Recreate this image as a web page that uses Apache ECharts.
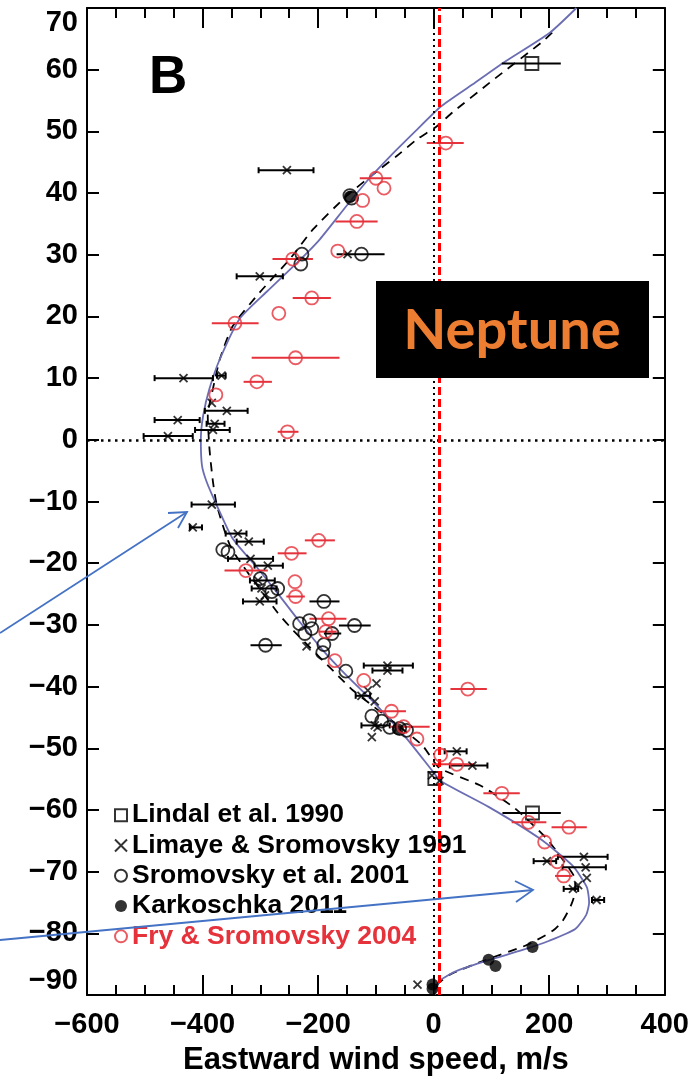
<!DOCTYPE html>
<html><head><meta charset="utf-8">
<script src="https://cdn.jsdelivr.net/npm/echarts@6/dist/echarts.min.js"></script>
<style>html,body{margin:0;padding:0;background:#fff}#c{width:692px;height:1081px}</style>
</head><body><div id="c"></div>
<script>
// ---- data: [eastward wind (m/s), latitude (deg), error low, error high] ----
const lindal = [[170,61,118,220],[171,-60.5,119,220],[2,-54.9,null,null]];
const limaye = [
 [-254,43.7,-303,-208],[-301,26.5,-341,-261],[-149,30.1,null,null],[-433,10.0,-483,-382],
 [-367,10.4,-375,-360],[-384,6.0,null,null],[-358,4.7,-396,-322],[-443,3.2,-483,-405],
 [-379,2.6,-393,-362],[-382,1.6,-413,-353],[-460,0.6,-502,-417],[-384,-10.5,-419,-344],
 [-417,-14.2,-422,-401],[-339,-15.2,-360,-324],[-320,-16.5,-341,-294],[-317,-19.3,-356,-278],
 [-287,-20.4,-310,-261],[-304,-22.8,-318,-275],[-298,-24.1,-315,-272],[-292,-25.2,null,null],
 [-301,-26.2,-330,-272],[-220,-33.5,null,null],[-80,-36.6,-121,-36],[-80,-37.4,-106,-54],
 [-99,-39.5,null,null],[-114,-40.6,null,null],[-125,-41.5,-135,-110],[-102,-42.4,null,null],
 [-102,-46.3,-125,-76],[-97,-46.6,null,null],[-107,-48.2,null,null],[40,-50.5,19,57],
 [67,-52.8,28,93],[-3,-54.4,null,null],[10,-55.3,null,null],[196,-68.3,173,212],
 [260,-67.6,215,301],[263,-69.3,223,298],[265,-71.0,null,null],[250,-72.2,null,null],
 [241,-72.8,225,250],[282,-74.6,274,295],[-28,-88.3,null,null]
];
const sromovsky = [
 [-145,39.6,null,null],[-142,39.2,null,null],[-228,30.1,null,null],[-230,28.5,null,null],
 [-125,30.1,-168,-85],[-365,-17.8,null,null],[-356,-18.2,null,null],[-300,-22.5,null,null],
 [-270,-24.1,null,null],[-280,-24.6,null,null],[-190,-26.2,-215,-163],[-232,-29.8,null,null],
 [-215,-29.3,null,null],[-211,-30.6,null,null],[-223,-31.4,null,null],[-176,-31.4,-190,-160],
 [-137,-30.1,-164,-109],[-291,-33.3,-317,-263],[-190,-33.2,null,null],[-192,-34.5,null,null],
 [-152,-37.5,null,null],[-107,-44.8,null,null],[-90,-45.6,null,null],[-76,-46.6,null,null],
 [-59,-46.8,null,null],[-47,-47.1,null,null]
];
const karkoschka = [[171,-82.2],[95,-84.3],[107,-85.3],[-2,-88.3],[-2,-89.0],[-62,-46.9],[-145,39.4]];
const fry = [
 [21,48.1,-12,52],[-100,42.4,-128,-73],[-86,40.8,null,null],[-123,38.8,null,null],
 [-133,35.4,-170,-97],[-166,30.6,null,null],[-244,29.3,-279,-209],[-211,23.0,-244,-178],
 [-268,20.5,null,null],[-344,18.9,-384,-303],[-239,13.3,-315,-163],[-306,9.4,-329,-280],
 [-377,7.3,null,null],[-253,1.3,-270,-234],[-199,-16.3,-223,-171],[-246,-18.4,-270,-220],
 [-325,-21.2,-362,-287],[-240,-23.0,null,null],[-239,-25.4,-255,-223],[-182,-29.0,-215,-151],
 [-187,-31.1,-199,-168],[-171,-35.8,null,null],[-121,-39.0,null,null],[-73,-44.0,-97,-48],
 [-52,-46.5,-75,-7],[-29,-48.5,null,null],[12,-51.1,null,null],[40,-52.6,-3,70],
 [59,-40.4,29,92],[118,-57.3,86,149],[164,-62.0,135,195],[234,-62.8,204,265],
 [192,-65.2,null,null],[214,-68.4,null,null],[225,-70.7,210,240]
];
// fitted profiles: [latitude, wind]
const fitSolid = [[70,247],[66,201],[61.1,120],[57.6,67],[54,12],[50,-32],[46,-75],[42,-115],[37.9,-151],
 [32.5,-197],[29.3,-230],[24,-289],[19.6,-336],[13.1,-370],[8.3,-388],[3.9,-399],[0,-403],[-4.2,-401],
 [-6.8,-393],[-10.7,-375],[-16,-348],[-20.9,-304],[-24.9,-270],[-29.5,-232],[-34.1,-192],[-38.2,-151],
 [-43,-99],[-48.4,-47],[-53.7,-2],[-55.3,12],[-59.5,95],[-64.6,183],[-69,240],[-72.5,265],[-75,269],
 [-77,264],[-79.3,245],[-81.2,200],[-82.7,154],[-84.3,97],[-86.1,40],[-87.7,10],[-89.3,3],[-90,2]];
const fitDashed = [[66,205],[64.6,189],[57.9,97],[53.1,33],[50.8,5],[48.7,-29],[46,-64],[43.9,-93],
 [39.5,-151],[34.1,-209],[29.3,-249],[23.9,-301],[18.4,-348],[13.1,-370],[8.3,-382],[3.9,-391],
 [-1.5,-388],[-6.8,-382],[-10.7,-375],[-17.6,-350],[-27.8,-272],[-31,-242],[-38.3,-165],[-40.6,-140],
 [-49.4,-21],[-53.2,10],[-56,80],[-59.7,140],[-64.6,195],[-68.9,230],[-71,244],[-73.2,245],[-75.4,238],
 [-78,223],[-79.6,206],[-81.9,161],[-84.5,85],[-86.7,28],[-88.4,5],[-90,0]];
const xTickValues = [-600,-400,-200,0,200,400];
const yTickStep = 10;
const zeroWind = 0, redLine = 10;
const legendNames = ['Lindal et al. 1990','Limaye & Sromovsky 1991','Sromovsky et al. 2001','Karkoschka 2011','Fry & Sromovsky 2004'];

const RED = '#E5323B';
const FONT = '"Liberation Sans", Arial, Helvetica, sans-serif';
const minus = v => String(v).replace('-', '\u2212');

function errSeries(data, color, caps) {
  return {
    type: 'custom', coordinateSystem: 'cartesian2d', silent: true, z: 3,
    encode: { x: [0, 2, 3], y: 1 },
    data: data.filter(d => d[2] != null),
    renderItem: (params, api) => {
      const lat = api.value(1);
      const p1 = api.coord([api.value(2), lat]), p2 = api.coord([api.value(3), lat]);
      const st = { stroke: color, lineWidth: 2 };
      const ch = [{ type: 'line', shape: { x1: p1[0], y1: p1[1], x2: p2[0], y2: p2[1] }, style: st }];
      if (caps) {
        ch.push({ type: 'line', shape: { x1: p1[0], y1: p1[1] - 3, x2: p1[0], y2: p1[1] + 3 }, style: st });
        ch.push({ type: 'line', shape: { x1: p2[0], y1: p2[1] - 3, x2: p2[0], y2: p2[1] + 3 }, style: st });
      }
      return { type: 'group', children: ch };
    }
  };
}
const pts = d => d.map(r => [r[0], r[1]]);
const tickStyle = { color: '#000', width: 2 };
const xBase = {
  type: 'value', min: -600, max: 400, interval: 200,
  axisLine: { show: true, onZero: false, lineStyle: tickStyle },
  axisTick: { show: true, inside: true, length: 20, lineStyle: tickStyle },
  minorTick: { show: true, splitNumber: 4, length: 10, lineStyle: tickStyle },
  splitLine: { show: false }
};
const yBase = {
  type: 'value', min: -90, max: 70, interval: yTickStep,
  axisLine: { show: true, onZero: false, lineStyle: tickStyle },
  axisTick: { show: true, inside: true, length: 12, lineStyle: tickStyle },
  splitLine: { show: false }
};
const labelStyle = { fontSize: 29, fontWeight: 'bold', color: '#000', fontFamily: FONT, formatter: minus };

const chart = echarts.init(document.getElementById('c'), null, { renderer: 'canvas' });
chart.setOption({
  animation: false,
  backgroundColor: '#fff',
  grid: { left: 87, right: 27, top: 8, bottom: 83, containLabel: false },
  xAxis: [
    Object.assign({}, xBase, { position: 'bottom',
      axisLabel: Object.assign({}, labelStyle, { margin: 15, customValues: xTickValues }),
      name: 'Eastward wind speed, m/s', nameLocation: 'middle', nameGap: 50,
      nameTextStyle: { fontSize: 31, fontWeight: 'bold', color: '#000', fontFamily: FONT } }),
    Object.assign({}, xBase, { position: 'top', axisLabel: { show: false } })
  ],
  yAxis: [
    Object.assign({}, yBase, { position: 'left',
      axisLabel: Object.assign({}, labelStyle, { margin: 9, verticalAlignMaxLabel: 'top', verticalAlignMinLabel: 'bottom' }) }),
    Object.assign({}, yBase, { position: 'right', axisLabel: { show: false } })
  ],
  legend: {
    orient: 'vertical', left: 109, top: 795, itemWidth: 12, itemHeight: 12, itemGap: 0,
    selectedMode: false,
    textStyle: { fontSize: 26.5, fontWeight: 'bold', fontFamily: FONT, color: '#000', lineHeight: 30.3 },
    data: legendNames.map((n, i) => ({ name: n, textStyle: { color: i === 4 ? RED : '#000' } }))
  },
  graphic: [
    { type: 'text', left: 149, top: 52, style: { text: 'B', font: 'bold 53px ' + FONT, fill: '#000' }, z: 10 },
    { type: 'rect', shape: { x: 376, y: 281, width: 273, height: 97 }, style: { fill: '#000' }, z: 10 },
    { type: 'text', x: 512, y: 331, style: { text: 'Neptune', font: 'bold 56px Lato, "Open Sans", sans-serif', fill: '#ED7D31', align: 'center', verticalAlign: 'middle' }, z: 11 },
    { type: 'line', shape: { x1: 0, y1: 633, x2: 187, y2: 512 }, style: { stroke: '#4472C4', lineWidth: 1.8 }, z: 12 },
    { type: 'polyline', shape: { points: [[168, 513], [187, 512], [178, 528]] }, style: { stroke: '#4472C4', lineWidth: 1.8, fill: null }, z: 12 },
    { type: 'line', shape: { x1: 0, y1: 940, x2: 533, y2: 890 }, style: { stroke: '#4472C4', lineWidth: 1.8 }, z: 12 },
    { type: 'polyline', shape: { points: [[515, 881], [533, 890], [516, 902]] }, style: { stroke: '#4472C4', lineWidth: 1.8, fill: null }, z: 12 }
  ],
  series: [
    { type: 'line', name: 'ref', data: [], symbol: 'none', silent: true, z: 1,
      markLine: { silent: true, symbol: ['none', 'none'], label: { show: false },
        data: [
          { xAxis: zeroWind, lineStyle: { color: '#000', type: [2, 4], width: 2 } },
          { yAxis: 0, lineStyle: { color: '#000', type: [2.5, 4.5], width: 2.5 } },
          { xAxis: redLine, lineStyle: { color: '#FF0000', type: [8, 4], width: 3 } }
        ] } },
    { type: 'line', name: 'fitDashed', data: fitDashed.map(r => [r[1], r[0]]), symbol: 'none', smooth: 0.2, z: 2,
      lineStyle: { color: '#000', width: 1.8, type: [9, 7] } },
    { type: 'line', name: 'fitSolid', data: fitSolid.map(r => [r[1], r[0]]), symbol: 'none', smooth: 0.2, z: 2,
      lineStyle: { color: '#6B6DB3', width: 1.8 } },
    errSeries(lindal, '#000', false),
    errSeries(limaye, '#000', true),
    errSeries(sromovsky, '#000', false),
    errSeries(fry, RED, false),
    { type: 'scatter', name: legendNames[0], data: pts(lindal), symbol: 'rect', symbolSize: 13, z: 4,
      itemStyle: { color: 'rgba(255,255,255,0)', borderColor: '#000', borderWidth: 1.8 } },
    { type: 'scatter', name: legendNames[1], data: pts(limaye), symbol: 'path://M0,0L10,10M10,0L0,10', symbolSize: 8, z: 4,
      itemStyle: { color: 'rgba(255,255,255,0)', borderColor: '#000', borderWidth: 1.8 } },
    { type: 'scatter', name: legendNames[2], data: pts(sromovsky), symbol: 'circle', symbolSize: 13, z: 4,
      itemStyle: { color: 'rgba(255,255,255,0)', borderColor: '#000', borderWidth: 1.8 } },
    { type: 'scatter', name: legendNames[3], data: karkoschka, symbol: 'circle', symbolSize: 12, z: 4,
      itemStyle: { color: '#000' } },
    { type: 'scatter', name: legendNames[4], data: pts(fry), symbol: 'circle', symbolSize: 13, z: 5,
      itemStyle: { color: 'rgba(255,255,255,0)', borderColor: RED, borderWidth: 1.8 } }
  ]
});
</script></body></html>
